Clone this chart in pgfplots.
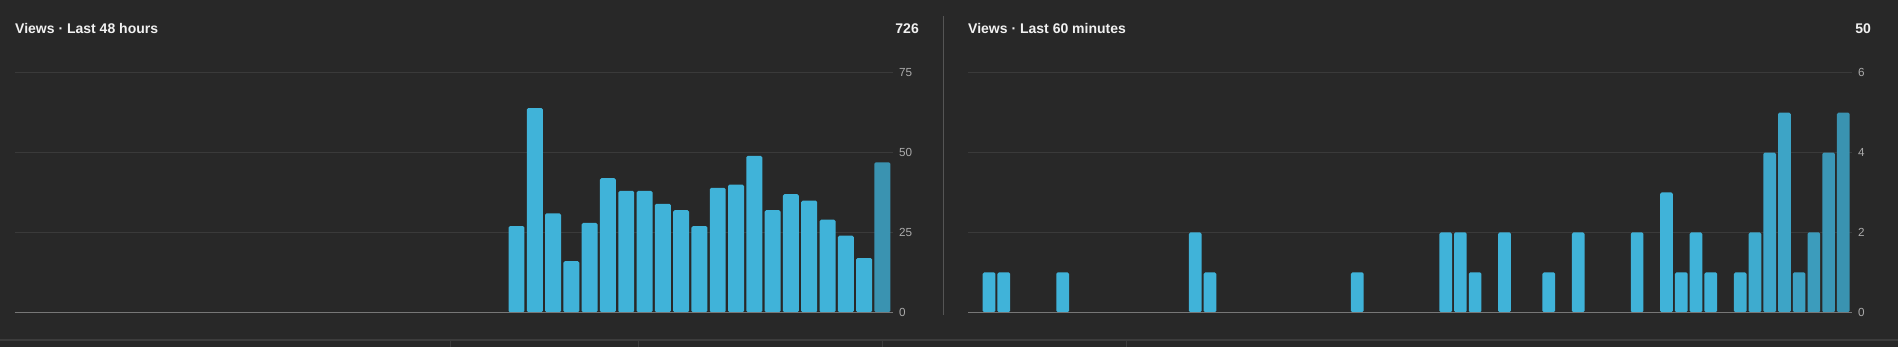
\documentclass[border=0pt]{standalone}
\usepackage{pgfplots}
\pgfplotsset{compat=1.18}
\usepackage{fontspec}
\setmainfont{Liberation Sans}
\definecolor{bg}{HTML}{282828}
\definecolor{gridc}{HTML}{3A3A3A}
\definecolor{basec}{HTML}{777777}
\definecolor{barL}{HTML}{40B3D9}
\definecolor{barD}{HTML}{3A93B1}
\definecolor{tickc}{HTML}{AAAAAA}
\definecolor{sepc}{HTML}{555555}
\definecolor{botc}{HTML}{3C3C3C}
\definecolor{titlec}{HTML}{F1F1F1}
\pgfplotsset{yt/.style={
  scale only axis, xtick=\empty, ymin=0,
  axis line style={draw=none}, major tick length=0pt,
  ymajorgrids, grid style={draw=gridc, line width=1.2pt},
  yticklabel pos=right,
  yticklabel style={anchor=west, inner sep=0pt, xshift=6.3pt, font=\fontsize{11.7}{13}\selectfont, text=tickc},
  /pgf/number format/assume math mode=true,
  clip=false,
}}
\pgfplotsset{lb/.style={ybar, bar width=0.873, bar shift=0.437, draw=none, rounded corners=1.5pt},
             rb/.style={ybar, bar width=0.862, bar shift=0.431, draw=none, rounded corners=1.5pt}}
\begin{document}
\begin{tikzpicture}
\fill[bg] (0,0) rectangle (1898pt,347pt);
% left chart
\begin{axis}[yt, at={(14.5pt,34.7pt)}, anchor=south west, width=878.2pt, height=239.4pt,
  xmin=0, xmax=48, ymax=75, ytick={0,25,50,75}]
\addplot[lb, fill=barL] coordinates {(27,27) (28,64) (29,31) (30,16) (31,28) (32,42) (33,38) (34,38) (35,34) (36,32) (37,27) (38,39) (39,40) (40,49) (41,32) (42,37) (43,35) (44,29) (45,24) (46,17)};
\addplot[lb, fill=barD] coordinates {(47,47)};
\draw[basec, line width=1.2pt] (axis cs:0,0) -- (axis cs:48,0);
\end{axis}
% right chart
\begin{axis}[yt, at={(968pt,34.7pt)}, anchor=south west, width=883.7pt, height=239.6pt,
  xmin=0, xmax=60, ymax=6, ytick={0,2,4,6}]
\addplot[rb, fill=barL] coordinates {(1,1) (2,1) (6,1) (15,2) (16,1) (26,1) (32,2) (33,2) (34,1) (36,2) (39,1) (41,2) (45,2) (47,3) (48,1) (49,2) (50,1)};
\addplot[rb, fill=barL!88!barD] coordinates {(52,1)};
\addplot[rb, fill=barL!75!barD] coordinates {(53,2)};
\addplot[rb, fill=barL!63!barD] coordinates {(54,4)};
\addplot[rb, fill=barL!52!barD] coordinates {(55,5)};
\addplot[rb, fill=barL!40!barD] coordinates {(56,1)};
\addplot[rb, fill=barL!28!barD] coordinates {(57,2)};
\addplot[rb, fill=barL!14!barD] coordinates {(58,4)};
\addplot[rb, fill=barD] coordinates {(59,5)};
\draw[basec, line width=1.2pt] (axis cs:0,0) -- (axis cs:60,0);
\end{axis}
% titles
\begin{scope}[every node/.style={inner sep=0pt, text=titlec, font=\bfseries\fontsize{14}{17}\selectfont}]
\node[anchor=base west] at (15pt,313.7pt) {Views · Last 48 hours};
\node[anchor=base east] at (919pt,313.7pt) {726};
\node[anchor=base west] at (968pt,313.7pt) {Views · Last 60 minutes};
\node[anchor=base east] at (1871pt,313.7pt) {50};
\end{scope}
\draw[sepc, line width=1pt] (943.3pt,32pt) -- (943.3pt,331pt);
\draw[botc, line width=1.2pt] (0pt,7pt) -- (1898pt,7pt);
\foreach \x in {450,638,882,1126} \draw[botc, line width=1pt] (\x pt,0pt) -- (\x pt,7pt);
\pgfresetboundingbox
\path (0,0) rectangle (1898pt,347pt);
\end{tikzpicture}
\end{document}
